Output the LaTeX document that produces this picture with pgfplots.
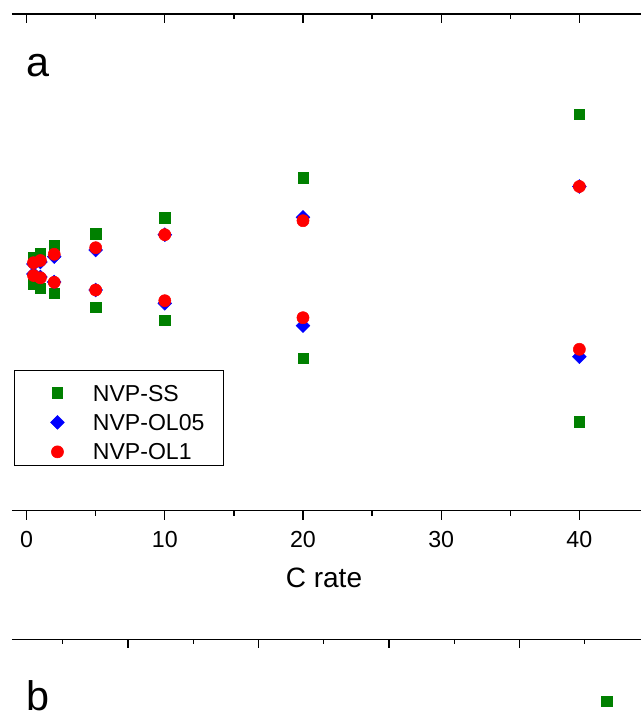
\documentclass[border=0pt]{standalone}
\usepackage{pgfplots}
\pgfplotsset{compat=1.18}
\usepackage{fontspec}
\setmainfont{Liberation Sans}
\definecolor{ssgreen}{RGB}{0,128,0}
\definecolor{olblue}{RGB}{0,0,255}
\definecolor{olred}{RGB}{255,0,0}
\pgfplotsset{
  common/.style={
    scale only axis,
    width=471.75pt,
    axis y line=none,
    axis line style={line width=1pt,black},
    major tick style={line width=1pt,black},
    minor tick style={line width=1pt,black},
    major tick length=6.75pt,
    minor tick length=3.75pt,
    /pgf/number format/assume math mode=true,
    tick label style={font=\fontsize{17.4}{20}\selectfont},
  },
  panela/.style={
    common,
    height=372.525pt,
    at={(9pt,-383.025pt)}, anchor=south west,
    xmin=-1.056, xmax=44.46, ymin=0, ymax=496.7,
    xtick={0,10,20,30,40},
    minor xtick={5,15,25,35},
  }
}
\begin{document}
\begin{tikzpicture}
% top axis line of panel a (ticks pointing inwards)
\begin{axis}[panela, axis x line*=top, tick align=inside, xticklabels={}]
\end{axis}
% panel a with data
\begin{axis}[panela, axis x line*=bottom, tick align=outside,
  xticklabel style={yshift=-5pt},
  legend cell align=left,
  legend style={at={(0.00318,0.2833)}, anchor=north west,
    draw=black, line width=0.6pt, inner xsep=0pt, inner ysep=2.5pt,
    row sep=0pt, column sep=0pt,
    font=\fontsize{17.3}{20}\selectfont,
    nodes={inner xsep=0pt, inner ysep=0pt, text width=97.5pt, text height=12.2pt, text depth=0pt}},
  legend image code/.code={\path (0pt,-7.4pt) (58.3pt,14.1pt);
    \draw[#1,line width=0.4pt] plot coordinates {(32pt,0pt)};},
]
\addplot[only marks, mark=square*, mark size=3.9pt, color=ssgreen] coordinates {
  (0.5,253.7) (1,257.4) (2,265.7) (5,277) (10,293) (20,333) (40,396.4)
  (0.5,226.7) (1,222.4) (2,217.4) (5,203.4) (10,190.7) (20,152.4) (40,89)
};
\addlegendentry{NVP-SS}
\addplot[only marks, mark=square*, mark size=3.65pt, mark options={rotate=45}, color=olblue] coordinates {
  (0.5,246.7) (1,248.7) (2,254) (5,260.7) (10,276) (20,293.4) (40,324.2)
  (0.5,236.7) (1,233.7) (2,228.7) (5,220.7) (10,207.4) (20,185) (40,154)
};
\addlegendentry{NVP-OL05}
\addplot[only marks, mark=*, mark size=4.55pt, color=olred] coordinates {
  (0.5,248) (1,250.2) (2,256.4) (5,263) (10,276) (20,290) (40,324.2)
  (0.5,235.2) (1,232.9) (2,228.4) (5,220.7) (10,210) (20,193) (40,161.4)
};
\addlegendentry{NVP-OL1}
\end{axis}
% panel b (only its top part is visible)
\begin{axis}[common, height=375pt, at={(9pt,-479.5pt)}, anchor=north west,
  xmin=0.1111, xmax=4.931, ymin=0, ymax=500,
  axis x line*=top, tick align=inside, xticklabels={},
  xtick={1,2,3,4}, minor xtick={0.5,1.5,2.5,3.5,4.5}]
\addplot[only marks, mark=square*, mark size=3.9pt, color=ssgreen] coordinates {(4.670,438.3)};
\end{axis}
\node[anchor=base, font=\fontsize{21}{24}\selectfont] at (243pt,-440.25pt) {C rate};
\node[anchor=base west, inner sep=0pt, font=\fontsize{31}{31}\selectfont] at (20pt,-57.75pt) {a};
\node[anchor=base west, inner sep=0pt, font=\fontsize{31}{31}\selectfont] at (20pt,-532.5pt) {b};
\pgfresetboundingbox
\useasboundingbox (0pt,0pt) rectangle (480.75pt,-543pt);
\end{tikzpicture}
\end{document}
